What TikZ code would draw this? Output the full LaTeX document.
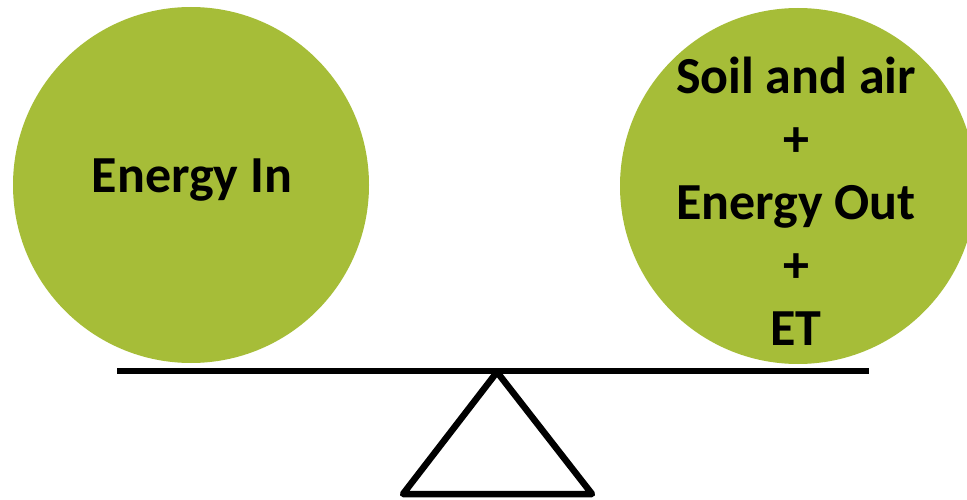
\documentclass[tikz,border=0pt]{standalone}
\usepackage{fontspec}
\setmainfont{Carlito}
\usetikzlibrary{positioning}
\definecolor{pangreen}{RGB}{166,189,56}

\begin{document}
\begin{tikzpicture}[x=1pt, y=-1pt,
  pan/.style = {circle, fill=pangreen, minimum size=356pt, inner sep=0pt},
  word/.style = {font=\fontsize{52}{63}\selectfont\bfseries, align=center, inner sep=0pt},
  bar/.style = {line width=6pt, black}]

  \useasboundingbox (0,0) rectangle (967,500);

  % the two pans
  \node[pan] (inpan) at (191,185) {};
  \node[pan] (outpan) at (798,186) {};
  \node[word, anchor=base] (intext) at (192,193) {Energy In};
  \node[word, anchor=base] (outtext) at (796,345)
    {Soil and air\\+\\Energy Out\\+\\ET};

  % beam and fulcrum
  \coordinate (beamL) at (117,370.5);
  \coordinate (beamR) at (869,370.5);
  \coordinate (top) at (497,372);
  \coordinate (baseL) at (403,494);
  \coordinate (baseR) at (592,494);
  \draw[bar] (beamL) -- (beamR);
  \draw[bar, line width=6.5pt, line join=round] (top) -- (baseR) -- (baseL) -- cycle;

\end{tikzpicture}
\end{document}
